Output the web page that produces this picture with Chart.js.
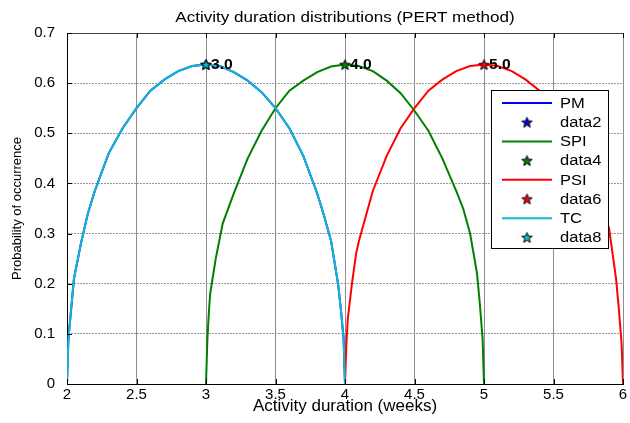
<!DOCTYPE html>
<html>
<head>
<meta charset="utf-8">
<script src="https://cdn.jsdelivr.net/npm/chart.js@4/dist/chart.umd.min.js"></script>
<style>
  html, body { margin: 0; padding: 0; background: #fff; overflow: hidden; }
</style>
</head>
<body>
<canvas id="myChart" width="630" height="423"></canvas>
<script>
// chart data

let chartTitle = "Activity duration distributions (PERT method)";
let xTitle = "Activity duration (weeks)";
let yTitle = "Probability of occurrence";
let xTickLabels = ["2", "2.5", "3", "3.5", "4", "4.5", "5", "5.5", "6"];
let yTickLabels = ["0", "0.1", "0.2", "0.3", "0.4", "0.5", "0.6", "0.7"];

// durations (weeks) for each activity curve
let pmDuration = [2.00, 2.01, 2.03, 2.05, 2.10, 2.15, 2.20, 2.30, 2.40, 2.50, 2.60, 2.70, 2.80, 2.90, 3.00, 3.10, 3.20, 3.30, 3.40, 3.50, 3.60, 3.70, 3.80, 3.85, 3.90, 3.95, 3.97, 3.99, 4.00];
let pmProb = [0, 0.09, 0.15, 0.21, 0.28, 0.34, 0.385, 0.46, 0.51, 0.55, 0.585, 0.607, 0.624, 0.634, 0.637, 0.634, 0.622, 0.605, 0.582, 0.55, 0.51, 0.455, 0.38, 0.335, 0.285, 0.20, 0.15, 0.09, 0];

let spiDuration = [3.00, 3.01, 3.02, 3.03, 3.07, 3.12, 3.20, 3.30, 3.40, 3.50, 3.60, 3.70, 3.80, 3.90, 4.00, 4.10, 4.20, 4.30, 4.40, 4.50, 4.60, 4.70, 4.80, 4.85, 4.90, 4.95, 4.97, 4.99, 5.00];
let spiProb = [0, 0.09, 0.14, 0.18, 0.25, 0.32, 0.38, 0.45, 0.505, 0.55, 0.585, 0.605, 0.622, 0.633, 0.637, 0.634, 0.624, 0.605, 0.58, 0.545, 0.505, 0.45, 0.385, 0.35, 0.30, 0.22, 0.16, 0.09, 0];

let psiDuration = [4.00, 4.01, 4.02, 4.05, 4.08, 4.10, 4.20, 4.30, 4.40, 4.50, 4.60, 4.70, 4.80, 4.90, 5.00, 5.10, 5.20, 5.30, 5.40, 5.50, 5.60, 5.70, 5.80, 5.85, 5.90, 5.95, 5.97, 5.99, 6.00];
let psiProb = [0, 0.08, 0.13, 0.20, 0.26, 0.285, 0.385, 0.455, 0.51, 0.55, 0.585, 0.607, 0.624, 0.634, 0.637, 0.634, 0.624, 0.607, 0.585, 0.55, 0.51, 0.455, 0.38, 0.345, 0.31, 0.21, 0.15, 0.08, 0];

// TC lies exactly on top of PM
let tcDuration = [2.00, 2.01, 2.03, 2.05, 2.10, 2.15, 2.20, 2.30, 2.40, 2.50, 2.60, 2.70, 2.80, 2.90, 3.00, 3.10, 3.20, 3.30, 3.40, 3.50, 3.60, 3.70, 3.80, 3.85, 3.90, 3.95, 3.97, 3.99, 4.00];
let tcProb = [0, 0.09, 0.15, 0.21, 0.28, 0.34, 0.385, 0.46, 0.51, 0.55, 0.585, 0.607, 0.624, 0.634, 0.637, 0.634, 0.622, 0.605, 0.582, 0.55, 0.51, 0.455, 0.38, 0.335, 0.285, 0.20, 0.15, 0.09, 0];

// most likely duration, marked with a star
let peakDuration = [3.0, 4.0, 5.0, 3.0];
let peakProb = [0.637, 0.637, 0.637, 0.637];
let peakText = ["3.0", "4.0", "5.0", "3.0"];

let seriesNames = ["PM", "data2", "SPI", "data4", "PSI", "data6", "TC", "data8"];
let seriesColors = ["#0000ff", "#0000ff", "#008000", "#008000", "#ff0000", "#ff0000", "#10b8cf", "#10b8cf"];

let fontName = "'Liberation Sans', Arial, sans-serif";

// build a matlab style pentagram marker
function makeStar(color, size) {
  let c = document.createElement("canvas");
  c.width = size + 2;
  c.height = size + 2;
  let g = c.getContext("2d");
  let cx = c.width / 2;
  let cy = c.height / 2 + 0.5;
  let outer = size / 2;
  let inner = outer * 0.42;
  g.beginPath();
  for (let i = 0; i < 10; i++) {
    let r = i % 2 === 0 ? outer : inner;
    let a = -Math.PI / 2 + (i * Math.PI) / 5;
    let px = cx + r * Math.cos(a);
    let py = cy + r * Math.sin(a);
    if (i === 0) g.moveTo(px, py);
    else g.lineTo(px, py);
  }
  g.closePath();
  g.fillStyle = color;
  g.fill();
  g.lineWidth = 1;
  g.strokeStyle = "#000";
  g.stroke();
  return c;
}

function toPoints(xs, ys) {
  let pts = [];
  for (let i = 0; i < xs.length; i++) {
    pts.push({ x: xs[i], y: ys[i] });
  }
  return pts;
}

function lineSet(name, color, xs, ys) {
  return {
    label: name,
    data: toPoints(xs, ys),
    showLine: true,
    borderColor: color,
    backgroundColor: color,
    borderWidth: 2,
    pointRadius: 0,
    tension: 0,
  };
}

function starSet(name, color, i) {
  return {
    label: name,
    data: [{ x: peakDuration[i], y: peakProb[i] }],
    showLine: false,
    pointStyle: makeStar(color, 11),
    pointRadius: 6,
    borderColor: color,
    backgroundColor: color,
  };
}

let datasets = [
  lineSet(seriesNames[0], seriesColors[0], pmDuration, pmProb),
  starSet(seriesNames[1], seriesColors[1], 0),
  lineSet(seriesNames[2], seriesColors[2], spiDuration, spiProb),
  starSet(seriesNames[3], seriesColors[3], 1),
  lineSet(seriesNames[4], seriesColors[4], psiDuration, psiProb),
  starSet(seriesNames[5], seriesColors[5], 2),
  lineSet(seriesNames[6], seriesColors[6], tcDuration, tcProb),
  starSet(seriesNames[7], seriesColors[7], 3),
];
// higher order = drawn further back, so PM goes under TC like in matlab
datasets[0].order = 8;
datasets[2].order = 7;
datasets[4].order = 6;
datasets[6].order = 5;
datasets[1].order = 4;
datasets[3].order = 3;
datasets[5].order = 2;
datasets[7].order = 1;

// text that is a bit wider than the font, like the original picture
function wideText(ctx, text, x, y, stretch, align) {
  let w = ctx.measureText(text).width * stretch;
  let left = x;
  if (align === "center") left = x - w / 2;
  ctx.save();
  ctx.translate(left, y);
  ctx.scale(stretch, 1);
  ctx.textAlign = "left";
  ctx.fillText(text, 0, 0);
  ctx.restore();
}

// title, frame, inward ticks, peak labels and the boxed legend
let extras = {
  id: "extras",
  afterDatasetsDraw(chart) {
    let ctx = chart.ctx;
    let area = chart.chartArea;
    let xs = chart.scales.x;
    let ys = chart.scales.y;
    ctx.save();

    // top frame line
    ctx.strokeStyle = "#444";
    ctx.lineWidth = 1;
    ctx.beginPath();
    ctx.moveTo(area.left, Math.round(area.top) + 0.5);
    ctx.lineTo(area.right, Math.round(area.top) + 0.5);
    ctx.stroke();

    // inward tick marks
    ctx.strokeStyle = "#000";
    ctx.beginPath();
    for (let i = 0; i < xTickLabels.length; i++) {
      let px = Math.round(xs.getPixelForValue(Number(xTickLabels[i]))) + 0.5;
      ctx.moveTo(px, area.bottom);
      ctx.lineTo(px, area.bottom - 5);
      ctx.moveTo(px, area.top);
      ctx.lineTo(px, area.top + 5);
    }
    for (let i = 0; i < yTickLabels.length; i++) {
      let py = Math.round(ys.getPixelForValue(Number(yTickLabels[i]))) + 0.5;
      ctx.moveTo(area.left, py);
      ctx.lineTo(area.left + 5, py);
    }
    ctx.stroke();

    // peak labels
    ctx.fillStyle = "#000";
    ctx.font = "bold 14px " + fontName;
    ctx.textBaseline = "middle";
    for (let i = 0; i < 3; i++) {
      let px = xs.getPixelForValue(peakDuration[i]);
      let py = ys.getPixelForValue(peakProb[i]);
      wideText(ctx, peakText[i], px + 5, py + 1, 1.12, "left");
    }

    // title
    ctx.font = "14px " + fontName;
    wideText(ctx, chartTitle, (area.left + area.right) / 2, 18, 1.22, "center");

    // legend box
    let bx = 491.5, by = 90.5, bw = 117, bh = 158;
    ctx.fillStyle = "#fff";
    ctx.fillRect(bx, by, bw, bh);
    ctx.strokeStyle = "#000";
    ctx.lineWidth = 1;
    ctx.strokeRect(bx, by, bw, bh);
    ctx.font = "14px " + fontName;
    for (let i = 0; i < seriesNames.length; i++) {
      let ry = 103 + i * 19.2;
      if (i % 2 === 0) {
        ctx.strokeStyle = seriesColors[i];
        ctx.lineWidth = 2;
        ctx.beginPath();
        ctx.moveTo(502, ry);
        ctx.lineTo(552, ry);
        ctx.stroke();
      } else {
        let img = chart.data.datasets[i].pointStyle;
        ctx.drawImage(img, 527 - img.width / 2, ry - img.height / 2);
      }
      ctx.fillStyle = "#000";
      wideText(ctx, seriesNames[i], 560, ry + 1, 1.18, "left");
    }
    ctx.restore();
  },
};

const config = {
  type: "scatter",
  data: { datasets: datasets },
  options: {
    responsive: false,
    animation: false,
    layout: { padding: { left: 0, right: 1, top: 33, bottom: 0 } },
    plugins: {
      legend: { display: false },
      tooltip: { enabled: false },
    },
    scales: {
      x: {
        type: "linear",
        min: 2,
        max: 6,
        afterBuildTicks: (scale) => {
          scale.ticks = xTickLabels.map((t) => ({ value: Number(t) }));
        },
        afterFit: (scale) => {
          scale.height = 39;
          scale.paddingRight = 0;
        },
        ticks: {
          color: "#000",
          font: { family: fontName, size: 15 },
          padding: 2,
          maxRotation: 0,
          callback: (value, index) => xTickLabels[index],
        },
        grid: { color: "#8c8c8c", drawTicks: false },
        border: { color: "#000", width: 1 },
        title: {
          display: true,
          text: xTitle,
          color: "#000",
          font: { family: fontName, size: 17 },
          padding: { top: 0, bottom: 6 },
        },
      },
      y: {
        type: "linear",
        min: 0,
        max: 0.7,
        afterBuildTicks: (scale) => {
          scale.ticks = yTickLabels.map((t) => ({ value: Number(t) }));
        },
        afterFit: (scale) => {
          scale.width = 67;
        },
        ticks: {
          color: "#000",
          font: { family: fontName, size: 15 },
          padding: 12,
          callback: (value, index) => yTickLabels[index],
        },
        grid: { color: "#9a9a9a", drawTicks: false },
        border: { color: "#000", width: 1, dash: [2, 1] },
        title: {
          display: true,
          text: yTitle,
          color: "#000",
          font: { family: fontName, size: 13 },
          padding: { top: 10, bottom: 0 },
        },
      },
    },
  },
  plugins: [extras],
};

let canvasChart = document.getElementById("myChart").getContext("2d");
const myChart = new Chart(canvasChart, config);
</script>
</body>
</html>
